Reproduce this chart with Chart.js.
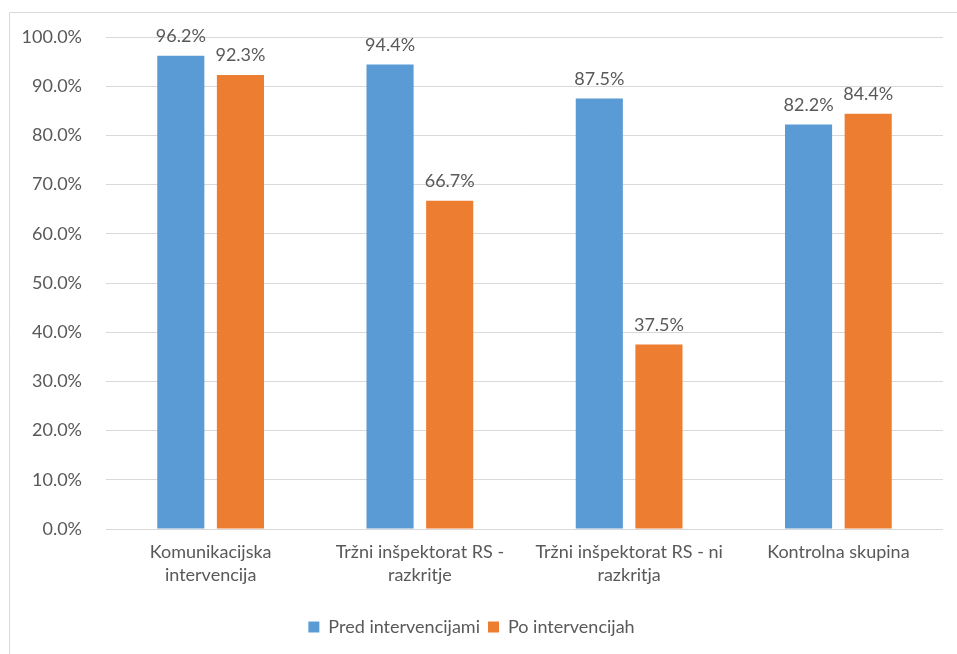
<!DOCTYPE html>
<html>
<head>
<meta charset="utf-8">
<script src="https://cdn.jsdelivr.net/npm/chart.js@4.4.1/dist/chart.umd.min.js"></script>
<style>
  html, body { margin: 0; padding: 0; background: #ffffff; }
  canvas { display: block; }
</style>
</head>
<body>
<canvas id="chart" width="957" height="654"></canvas>
<script>
// Categories (multi-line axis labels)
const categories = [
  ["Komunikacijska", "intervencija"],
  ["Tržni inšpektorat RS -", "razkritje"],
  ["Tržni inšpektorat RS - ni", "razkritja"],
  "Kontrolna skupina"
];

// Series values, in percent
const predIntervencijami = [96.2, 94.4, 87.5, 82.2];
const poIntervencijah = [92.3, 66.7, 37.5, 84.4];

// Series names
const seriesNames = ["Pred intervencijami", "Po intervencijah"];

const TEXT = '#595959';
const FONT = 'Lato, "Open Sans", sans-serif';

// Thin frame along the top and left edges of the chart
const framePlugin = {
  id: 'frame',
  beforeDraw(chart) {
    const ctx = chart.ctx;
    ctx.save();
    ctx.strokeStyle = '#d9d9d9';
    ctx.lineWidth = 1;
    ctx.beginPath();
    ctx.moveTo(9.5, chart.height);
    ctx.lineTo(9.5, 12.5);
    ctx.lineTo(chart.width, 12.5);
    ctx.stroke();
    ctx.restore();
  }
};

// Value labels above each bar
const valueLabels = {
  id: 'valueLabels',
  afterDatasetsDraw(chart) {
    const ctx = chart.ctx;
    ctx.save();
    ctx.font = '18px ' + FONT;
    ctx.fillStyle = TEXT;
    ctx.textAlign = 'center';
    ctx.textBaseline = 'alphabetic';
    chart.data.datasets.forEach((ds, i) => {
      chart.getDatasetMeta(i).data.forEach((bar, j) => {
        ctx.fillText(ds.data[j].toFixed(1) + '%', bar.x, bar.y - 14);
      });
    });
    ctx.restore();
  }
};

new Chart(document.getElementById('chart'), {
  type: 'bar',
  data: {
    labels: categories,
    datasets: [
      {
        label: seriesNames[0],
        data: predIntervencijami,
        backgroundColor: '#5B9BD5',
        categoryPercentage: 0.57,
        barPercentage: 0.79
      },
      {
        label: seriesNames[1],
        data: poIntervencijah,
        backgroundColor: '#ED7D31',
        categoryPercentage: 0.57,
        barPercentage: 0.79
      }
    ]
  },
  options: {
    responsive: false,
    animation: false,
    devicePixelRatio: 1,
    layout: { padding: { top: 37, right: 14, left: 0, bottom: 8 } },
    plugins: {
      tooltip: { enabled: false },
      legend: {
        position: 'bottom',
        labels: {
          boxWidth: 11,
          boxHeight: 11,
          padding: 8,
          color: TEXT,
          font: { family: FONT, size: 18 }
        }
      }
    },
    scales: {
      x: {
        grid: { display: false, drawTicks: false },
        border: { display: false },
        ticks: {
          color: TEXT,
          padding: 12,
          maxRotation: 0,
          autoSkip: false,
          font: { family: FONT, size: 18, lineHeight: 1.25 }
        },
        afterFit(scale) { scale.height = 81; }
      },
      y: {
        min: 0,
        max: 100,
        grid: { color: '#d9d9d9', lineWidth: 1, drawTicks: false },
        border: { display: false },
        ticks: {
          stepSize: 10,
          color: TEXT,
          padding: 24,
          font: { family: FONT, size: 18 },
          callback: v => v.toFixed(1) + '%'
        },
        afterFit(scale) { scale.width = 106; }
      }
    }
  },
  plugins: [framePlugin, valueLabels]
});
</script>
</body>
</html>
